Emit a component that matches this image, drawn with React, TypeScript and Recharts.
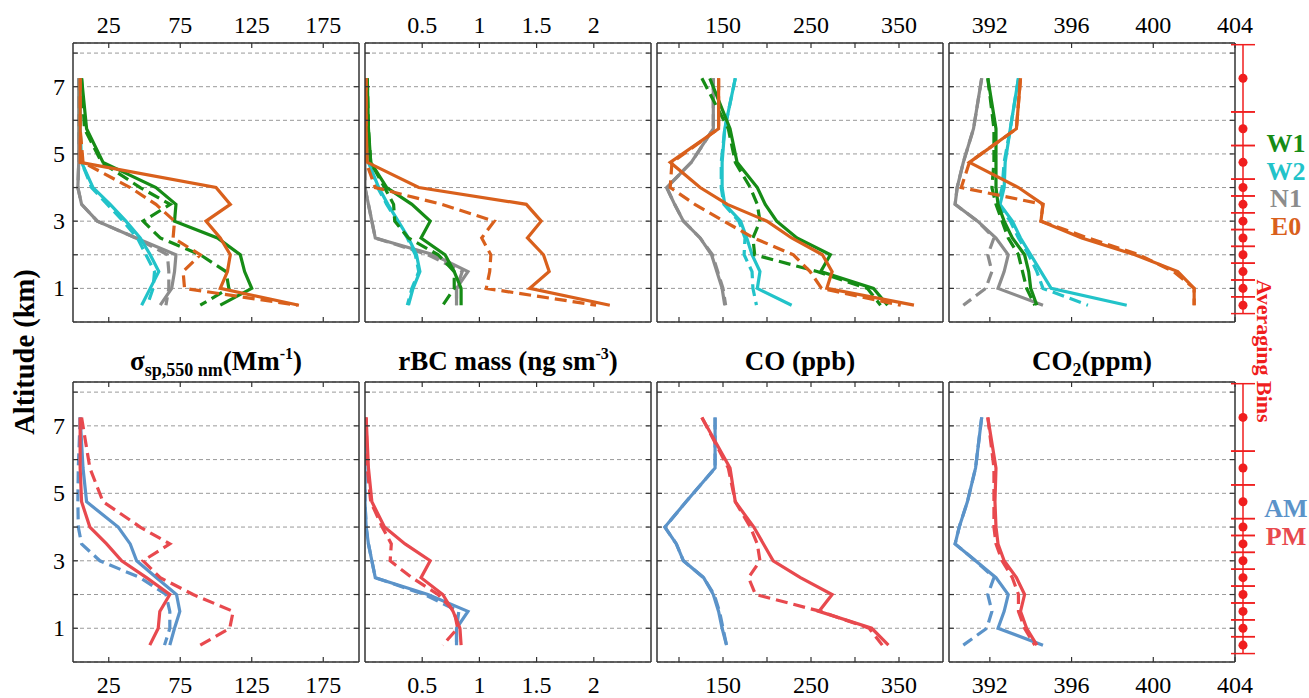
import React from "react";
import {
  LineChart,
  Line,
  XAxis,
  YAxis,
  CartesianGrid,
  ScatterChart,
  Scatter,
  ErrorBar,
} from "recharts";

// altitude of each averaging bin centre (km), top to bottom
const ALT = [7.25, 5.75, 4.75, 4.0, 3.5, 3.0, 2.5, 2.0, 1.5, 1.0, 0.5];
const BIN_HALF = [1, 0.5, 0.5, 0.25, 0.25, 0.25, 0.25, 0.25, 0.25, 0.25, 0.25];
const Y_TICKS = [1, 2, 3, 4, 5, 6, 7, 8];
const Y_LABELS = [1, 3, 5, 7];

// scattering (Mm-1)
const SP_W1 = [6, 9.5, 21, 58, 72, 71, 101, 117, 120, 125, 103];
const SP_W1D = [6, 8, 20, 47, 68, 49, 61, 89, 107, 109, 89];
const SP_W2 = [5, 5, 6, 14, 26, 37, 47, 54, 60, 54, 48];
const SP_W2D = [5, 5, 6, 13, 24, 35, 45, 51, 57, 56, 52];
const SP_N1 = [4, 4, 4, 3.4, 6, 17, 44, 72, 71, 69, 61];
const SP_N1D = [4, 4, 4, 3.4, 6, 17, 44, 66, 67, 67, 65];
const SP_E0 = [5, 5, 5, 100, 110, 93, 103, 110, 108, 103, 158];
const SP_E0D = [5, 5, 7, 40, 58, 71, 70, 89, 77, 78, 157];
const SP_AM = [5, 7, 9.5, 31.6, 40, 44.5, 58.4, 72.4, 74.7, 71, 67.7];
const SP_AMD = [5, 3.7, 3.4, 3.7, 6, 18.8, 47, 65, 67.7, 67.7, 64];
const SP_PM = [5, 5, 6, 11.8, 23.5, 34, 51.4, 67.7, 60.7, 59.6, 53.7];
const SP_PMD = [6, 11.8, 21, 47, 67.7, 49, 61, 84, 112, 109.6, 89];

// rBC mass (ng sm-3)
const BC_W1 = [0.02, 0.03, 0.05, 0.19, 0.41, 0.57, 0.49, 0.7, 0.78, 0.84, 0.84];
const BC_W1D = [0.02, 0.03, 0.05, 0.17, 0.25, 0.26, 0.38, 0.64, 0.78, 0.78, 0.68];
const BC_W2 = [0.01, 0.02, 0.03, 0.12, 0.2, 0.29, 0.38, 0.45, 0.48, 0.42, 0.38];
const BC_W2D = [0.01, 0.02, 0.03, 0.11, 0.19, 0.28, 0.37, 0.44, 0.47, 0.41, 0.37];
const BC_N1 = [0, 0, 0, 0, 0.03, 0.06, 0.09, 0.6, 0.9, 0.8, 0.8];
const BC_N1D = [0, 0, 0, 0, 0.03, 0.06, 0.09, 0.55, 0.85, 0.8, 0.8];
const BC_E0 = [0.01, 0.01, 0.02, 0.47, 1.41, 1.54, 1.42, 1.56, 1.61, 1.44, 2.14];
const BC_E0D = [0.01, 0.01, 0.01, 0.09, 0.67, 1.13, 1.02, 1.1, 1.09, 1.06, 2.02];
const BC_AM = [0, 0, 0, 0.01, 0.03, 0.06, 0.09, 0.55, 0.9, 0.8, 0.8];
const BC_AMD = [0, 0, 0, 0.01, 0.03, 0.06, 0.09, 0.52, 0.82, 0.8, 0.8];
const BC_PM = [0.01, 0.03, 0.06, 0.17, 0.35, 0.57, 0.49, 0.68, 0.77, 0.83, 0.84];
const BC_PMD = [0.01, 0.02, 0.05, 0.15, 0.23, 0.22, 0.41, 0.64, 0.78, 0.81, 0.68];

// CO (ppb)
const CO_W1 = [135, 158, 166, 189, 198, 211, 234, 272, 261, 321, 337];
const CO_W1D = [126, 156, 164, 181, 189, 192, 184, 186, 257, 314, 329];
const CO_W2 = [164, 152, 149, 149, 152, 170, 177, 183, 192, 189, 228];
const CO_W2D = [164, 152, 148, 148, 151, 168, 175, 174, 183, 184, 188];
const CO_N1 = [139, 139, 114, 86, 95, 105, 124, 137, 143, 149, 152];
const CO_N1D = [139, 139, 114, 86, 95, 105, 124, 138, 144, 150, 153];
const CO_E0 = [145, 145, 90, 124, 155, 200, 228, 263, 274, 268, 367];
const CO_E0D = [145, 145, 92, 90, 118, 151, 185, 230, 249, 262, 352];
const CO_AM = [141, 141, 108, 84, 97, 105, 128, 139, 145, 149, 154];
const CO_AMD = [141, 141, 108, 84, 97, 105, 128, 140, 146, 150, 154];
const CO_PM = [126, 158, 164, 185, 196, 207, 238, 274, 259, 319, 338];
const CO_PMD = [126, 156, 164, 181, 189, 192, 179, 187, 261, 316, 331];

// CO2 (ppm)
const CO2_W1 = [391.9, 392.3, 392.3, 392.3, 392.4, 392.7, 393.1, 393.7, 393.9, 394.0, 394.3];
const CO2_W1D = [391.9, 392.2, 392.2, 392.1, 392.3, 392.6, 392.9, 393.4, 393.6, 393.8, 394.2];
const CO2_W2 = [393.4, 393.0, 392.75, 392.7, 392.5, 393.1, 393.5, 394.0, 394.5, 395.0, 398.7];
const CO2_W2D = [393.4, 393.0, 392.7, 392.6, 392.4, 393.0, 393.4, 393.9, 394.3, 394.6, 396.8];
const CO2_N1 = [391.6, 391.2, 390.7, 390.4, 390.3, 391.4, 392.3, 392.9, 392.7, 392.4, 394.6];
const CO2_N1D = [391.6, 391.2, 390.7, 390.4, 390.3, 391.4, 392.2, 391.9, 392.1, 391.8, 390.7];
const CO2_E0 = [393.5, 393.3, 391.0, 393.4, 394.6, 394.5, 396.5, 399.1, 401.2, 402.0, 402.0];
const CO2_E0D = [393.5, 393.3, 391.0, 390.6, 394.6, 394.5, 396.8, 399.3, 401.0, 402.0, 402.0];
const CO2_AM = [391.6, 391.3, 390.9, 390.5, 390.3, 391.3, 392.3, 392.9, 392.7, 392.4, 394.6];
const CO2_AMD = [391.6, 391.3, 390.9, 390.5, 390.3, 391.3, 392.2, 391.9, 392.1, 391.85, 390.7];
const CO2_PM = [391.9, 392.3, 392.25, 392.3, 392.4, 392.7, 393.3, 393.7, 393.5, 393.8, 394.3];
const CO2_PMD = [391.9, 392.2, 392.2, 392.2, 392.3, 392.6, 393.1, 393.4, 393.4, 393.7, 394.2];

const SP_TICKS = [25, 75, 125, 175];
const BC_TICKS = [0.5, 1, 1.5, 2];
const CO_TICKS = [100, 150, 200, 250, 300, 350];
const CO_LABELS = [150, 250, 350];
const CO2_TICKS = [392, 396, 400, 404];

const FONT = "'Liberation Serif', 'Times New Roman', serif";
const GREEN = "#168c16";
const CYAN = "#22c3c9";
const GRAY = "#8c8c8c";
const ORANGE = "#d9601c";
const BLUE = "#5b93c9";
const RED = "#e8494e";
const BIN_RED = "#f01e1e";
const FRAME = "#333";

const PW = 286;
const M = 40;
const COLS = [73, 365, 657, 949];

type Series = { key: string; values: number[]; color: string; dashed?: boolean };

const topSeries = (n1d, n1, w2d, w2, w1d, w1, e0d, e0): Series[] => [
  { key: "n1d", values: n1d, color: GRAY, dashed: true },
  { key: "n1", values: n1, color: GRAY },
  { key: "w2d", values: w2d, color: CYAN, dashed: true },
  { key: "w2", values: w2, color: CYAN },
  { key: "w1d", values: w1d, color: GREEN, dashed: true },
  { key: "w1", values: w1, color: GREEN },
  { key: "e0d", values: e0d, color: ORANGE, dashed: true },
  { key: "e0", values: e0, color: ORANGE },
];

const botSeries = (amd, am, pmd, pm): Series[] => [
  { key: "amd", values: amd, color: BLUE, dashed: true },
  { key: "am", values: am, color: BLUE },
  { key: "pmd", values: pmd, color: RED, dashed: true },
  { key: "pm", values: pm, color: RED },
];

const makeXTick = (side: "top" | "bottom", labels: number[] | null) => (p: any) => {
  const v = p.payload.value;
  const d = side === "top" ? 5 : -5;
  return (
    <g>
      <line x1={p.x} y1={p.y} x2={p.x} y2={p.y + d} stroke={FRAME} strokeWidth={1.2} />
      {labels && labels.includes(v) && (
        <text
          x={p.x}
          y={side === "top" ? p.y - 10 : p.y + 31}
          textAnchor="middle"
          fontSize={24}
          fontFamily={FONT}
          fill="#000"
        >
          {String(v)}
        </text>
      )}
    </g>
  );
};

const makeYTick = (side: "left" | "right", showLabels: boolean) => (p: any) => {
  const v = p.payload.value;
  const d = side === "left" ? 5 : -5;
  return (
    <g>
      <line x1={p.x} y1={p.y} x2={p.x + d} y2={p.y} stroke={FRAME} strokeWidth={1.2} />
      {showLabels && Y_LABELS.includes(v) && (
        <text x={p.x - 8} y={p.y + 8} textAnchor="end" fontSize={24} fontFamily={FONT} fill="#000">
          {String(v)}
        </text>
      )}
    </g>
  );
};

function Panel({
  left,
  top,
  h,
  series,
  domain,
  ticks,
  labels,
  labelSide,
  yLabels,
}: {
  left: number;
  top: number;
  h: number;
  series: Series[];
  domain: [number, number];
  ticks: number[];
  labels: number[];
  labelSide: "top" | "bottom";
  yLabels: boolean;
}) {
  const rows = ALT.map((alt, i) => {
    const r: any = { alt };
    series.forEach((s) => (r[s.key] = s.values[i]));
    return r;
  });
  const axisLine = { stroke: FRAME, strokeWidth: 1.5 };
  return (
    <div style={{ position: "absolute", left: left - M, top: top - M }}>
      <LineChart
        layout="vertical"
        width={PW + 2 * M}
        height={h + 2 * M}
        data={rows}
        margin={{ top: 0, right: 0, bottom: 0, left: 0 }}
      >
        <CartesianGrid
          xAxisId="t"
          yAxisId="l"
          vertical={false}
          stroke="#9a9a9a"
          strokeDasharray="4 3"
        />
        <XAxis
          xAxisId="t"
          orientation="top"
          type="number"
          domain={domain}
          ticks={ticks}
          allowDataOverflow
          interval={0}
          height={M}
          tickSize={0}
          tickMargin={0}
          tickLine={false}
          axisLine={axisLine}
          tick={makeXTick("top", labelSide === "top" ? labels : null)}
        />
        <XAxis
          xAxisId="b"
          orientation="bottom"
          type="number"
          domain={domain}
          ticks={ticks}
          allowDataOverflow
          interval={0}
          height={M}
          tickSize={0}
          tickMargin={0}
          tickLine={false}
          axisLine={axisLine}
          tick={makeXTick("bottom", labelSide === "bottom" ? labels : null)}
        />
        <YAxis
          yAxisId="l"
          orientation="left"
          type="number"
          dataKey="alt"
          domain={[0, 8.3]}
          reversed
          ticks={Y_TICKS}
          allowDataOverflow
          interval={0}
          width={M}
          tickSize={0}
          tickMargin={0}
          tickLine={false}
          axisLine={axisLine}
          tick={makeYTick("left", yLabels)}
        />
        <YAxis
          yAxisId="r"
          orientation="right"
          type="number"
          dataKey="alt"
          domain={[0, 8.3]}
          reversed
          ticks={Y_TICKS}
          allowDataOverflow
          interval={0}
          width={M}
          tickSize={0}
          tickMargin={0}
          tickLine={false}
          axisLine={axisLine}
          tick={makeYTick("right", false)}
        />
        {series.map((s) => (
          <Line
            key={s.key}
            xAxisId="t"
            yAxisId="l"
            dataKey={s.key}
            type="linear"
            stroke={s.color}
            strokeWidth={3.2}
            strokeDasharray={s.dashed ? "12 6" : undefined}
            dot={false}
            activeDot={false}
            isAnimationActive={false}
          />
        ))}
      </LineChart>
    </div>
  );
}

function Bins({ top, h }: { top: number; h: number }) {
  const rows = ALT.map((alt, i) => ({ x: 0.5, alt, err: [BIN_HALF[i], BIN_HALF[i]] }));
  return (
    <div style={{ position: "absolute", left: 1243 - 15, top }}>
      <ScatterChart width={30} height={h} margin={{ top: 0, right: 0, bottom: 0, left: 0 }}>
        <XAxis type="number" dataKey="x" domain={[0, 1]} hide />
        <YAxis type="number" dataKey="alt" domain={[0, 8.3]} allowDataOverflow hide />
        <Scatter data={rows} fill={BIN_RED} isAnimationActive={false}>
          <ErrorBar dataKey="err" direction="y" width={12} stroke={BIN_RED} strokeWidth={1.5} />
        </Scatter>
      </ScatterChart>
    </div>
  );
}

export default function App() {
  const T1 = 43;
  const H1 = 279;
  const T2 = 382;
  const H2 = 280;
  const bold = { fontFamily: FONT, fontWeight: "bold" as const };
  return (
    <div style={{ position: "absolute", left: 0, top: 0, width: 1309, height: 698, background: "#fff" }}>
      <Panel left={COLS[0]} top={T1} h={H1} domain={[0, 200]} ticks={SP_TICKS} labels={SP_TICKS} labelSide="top" yLabels
        series={topSeries(SP_N1D, SP_N1, SP_W2D, SP_W2, SP_W1D, SP_W1, SP_E0D, SP_E0)} />
      <Panel left={COLS[1]} top={T1} h={H1} domain={[0, 2.5]} ticks={BC_TICKS} labels={BC_TICKS} labelSide="top" yLabels={false}
        series={topSeries(BC_N1D, BC_N1, BC_W2D, BC_W2, BC_W1D, BC_W1, BC_E0D, BC_E0)} />
      <Panel left={COLS[2]} top={T1} h={H1} domain={[75, 400]} ticks={CO_TICKS} labels={CO_LABELS} labelSide="top" yLabels={false}
        series={topSeries(CO_N1D, CO_N1, CO_W2D, CO_W2, CO_W1D, CO_W1, CO_E0D, CO_E0)} />
      <Panel left={COLS[3]} top={T1} h={H1} domain={[390, 404]} ticks={CO2_TICKS} labels={CO2_TICKS} labelSide="top" yLabels={false}
        series={topSeries(CO2_N1D, CO2_N1, CO2_W2D, CO2_W2, CO2_W1D, CO2_W1, CO2_E0D, CO2_E0)} />

      <Panel left={COLS[0]} top={T2} h={H2} domain={[0, 200]} ticks={SP_TICKS} labels={SP_TICKS} labelSide="bottom" yLabels
        series={botSeries(SP_AMD, SP_AM, SP_PMD, SP_PM)} />
      <Panel left={COLS[1]} top={T2} h={H2} domain={[0, 2.5]} ticks={BC_TICKS} labels={BC_TICKS} labelSide="bottom" yLabels={false}
        series={botSeries(BC_AMD, BC_AM, BC_PMD, BC_PM)} />
      <Panel left={COLS[2]} top={T2} h={H2} domain={[75, 400]} ticks={CO_TICKS} labels={CO_LABELS} labelSide="bottom" yLabels={false}
        series={botSeries(CO_AMD, CO_AM, CO_PMD, CO_PM)} />
      <Panel left={COLS[3]} top={T2} h={H2} domain={[390, 404]} ticks={CO2_TICKS} labels={CO2_TICKS} labelSide="bottom" yLabels={false}
        series={botSeries(CO2_AMD, CO2_AM, CO2_PMD, CO2_PM)} />

      <Bins top={T1} h={H1} />
      <Bins top={T2} h={H2} />

      <svg width={1309} height={698} style={{ position: "absolute", left: 0, top: 0, pointerEvents: "none" }}>
        <g transform="translate(24,352) rotate(-90)">
          <text y={10} textAnchor="middle" fontSize={28.5} {...bold} fill="#000">Altitude (km)</text>
        </g>
        <g transform="translate(1264,351) rotate(90)">
          <text y={7} textAnchor="middle" fontSize={22} {...bold} fill={BIN_RED}>Averaging Bins</text>
        </g>

        <text x={1286} y={152} textAnchor="middle" fontSize={26} {...bold} fill={GREEN}>W1</text>
        <text x={1286} y={180} textAnchor="middle" fontSize={26} {...bold} fill={CYAN}>W2</text>
        <text x={1286} y={207} textAnchor="middle" fontSize={26} {...bold} fill={GRAY}>N1</text>
        <text x={1286} y={235} textAnchor="middle" fontSize={26} {...bold} fill={ORANGE}>E0</text>
        <text x={1286} y={517} textAnchor="middle" fontSize={26} {...bold} fill={BLUE}>AM</text>
        <text x={1286} y={545} textAnchor="middle" fontSize={26} {...bold} fill={RED}>PM</text>

        <text x={216} y={370} textAnchor="middle" fontSize={27} {...bold} fill="#000">
          σ<tspan fontSize={18} dy={6}>sp,550 nm</tspan>
          <tspan dy={-6}>(Mm</tspan>
          <tspan fontSize={16} dy={-11}>-1</tspan>
          <tspan dy={11}>)</tspan>
        </text>
        <text x={508} y={370} textAnchor="middle" fontSize={27} {...bold} fill="#000">
          rBC mass (ng sm<tspan fontSize={16} dy={-11}>-3</tspan>
          <tspan dy={11}>)</tspan>
        </text>
        <text x={800} y={370} textAnchor="middle" fontSize={27} {...bold} fill="#000">CO (ppb)</text>
        <text x={1092} y={370} textAnchor="middle" fontSize={27} {...bold} fill="#000">
          CO<tspan fontSize={18} dy={6}>2</tspan>
          <tspan dy={-6}>(ppm)</tspan>
        </text>
      </svg>
    </div>
  );
}
